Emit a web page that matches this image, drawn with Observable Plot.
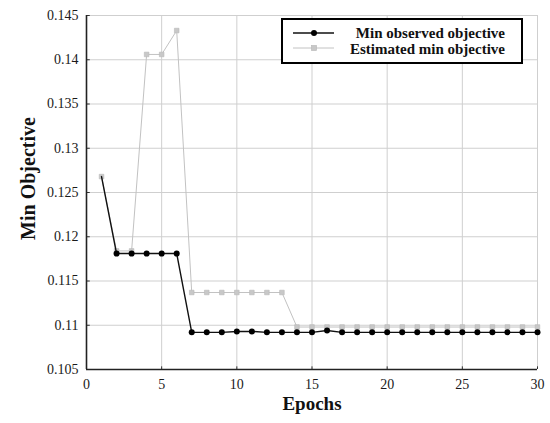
<!DOCTYPE html>
<html>
<head>
<meta charset="utf-8">
<script src="https://cdn.jsdelivr.net/npm/d3@7"></script>
<script src="https://cdn.jsdelivr.net/npm/@observablehq/plot@0.6"></script>
<style>
  body { margin: 0; background: #fff; }
  #wrap { position: relative; width: 550px; height: 423px; }
  #legend { position: absolute; left: 281px; top: 18px; }
</style>
</head>
<body>
<div id="wrap"></div>
<script>
const epochs = d3.range(1, 31);
const observed = [0.1268, 0.1181, 0.1181, 0.1181, 0.1181, 0.1181, 0.1092, 0.1092, 0.1092, 0.1093,
                  0.1093, 0.1092, 0.1092, 0.1092, 0.1092, 0.1094, 0.1092, 0.1092, 0.1092, 0.1092,
                  0.1092, 0.1092, 0.1092, 0.1092, 0.1092, 0.1092, 0.1092, 0.1092, 0.1092, 0.1092];
const estimated = [0.1268, 0.1184, 0.1184, 0.1406, 0.1406, 0.1433, 0.1137, 0.1137, 0.1137, 0.1137,
                   0.1137, 0.1137, 0.1137, 0.1098, 0.1098, 0.1098, 0.1098, 0.1098, 0.1098, 0.1098,
                   0.1098, 0.1098, 0.1098, 0.1098, 0.1098, 0.1098, 0.1098, 0.1098, 0.1098, 0.1098];
const xTicks = [0, 5, 10, 15, 20, 25, 30];
const yTicks = [0.105, 0.11, 0.115, 0.12, 0.125, 0.13, 0.135, 0.14, 0.145];
const seriesNames = ["Min observed objective", "Estimated min objective"];
const boldWords = ["Min", "Estimated", "min"];

const obs = epochs.map((e, i) => ({epoch: e, value: observed[i]}));
const est = epochs.map((e, i) => ({epoch: e, value: estimated[i]}));

const font = "'Liberation Serif', 'DejaVu Serif', serif";
const fmt = d => String(+d.toFixed(3));

const chart = Plot.plot({
  width: 550,
  height: 423,
  marginLeft: 86,
  marginRight: 13,
  marginTop: 15,
  marginBottom: 54,
  style: {fontFamily: font, fontSize: "14px", color: "#1a1a1a", background: "#fff"},
  x: {domain: [0, 30], label: null},
  y: {domain: [0.105, 0.145], label: null},
  marks: [
    Plot.gridX(xTicks, {stroke: "#cfcfcf", strokeOpacity: 1, strokeWidth: 1}),
    Plot.gridY(yTicks, {stroke: "#cfcfcf", strokeOpacity: 1, strokeWidth: 1}),
    Plot.axisX({ticks: xTicks, tickSize: 0, tickPadding: 10, label: null}),
    Plot.axisY({ticks: yTicks, tickSize: 0, tickPadding: 8, label: null, tickFormat: fmt}),
    Plot.ruleX(xTicks, {y1: 0.105, y2: 0.1053, stroke: "#333", strokeWidth: 1}),
    Plot.ruleY(yTicks, {x1: 0, x2: 0.25, stroke: "#333", strokeWidth: 1}),
    Plot.line(est, {x: "epoch", y: "value", stroke: "#c2c2c2", strokeWidth: 1}),
    Plot.dot(est, {x: "epoch", y: "value", symbol: "square", r: 2.6, fill: "#c8c8c8", stroke: "#b8b8b8", strokeWidth: 0.6}),
    Plot.line(obs, {x: "epoch", y: "value", stroke: "#111", strokeWidth: 1.4}),
    Plot.dot(obs, {x: "epoch", y: "value", r: 3, fill: "#000", filter: d => d.epoch > 1}),
    Plot.ruleX([0], {stroke: "#222", strokeWidth: 1.6}),
    Plot.ruleY([0.105], {stroke: "#222", strokeWidth: 1.6}),
    Plot.text(["Min Objective"], {frameAnchor: "left", textAnchor: "middle", dx: -58, dy: -14, rotate: -90, fontSize: 20, fontWeight: "bold", fill: "#111"}),
    Plot.text(["Epochs"], {frameAnchor: "bottom", dy: 40, fontSize: 19, fontWeight: "bold", fill: "#111"})
  ]
});

const wrap = document.getElementById("wrap");
wrap.appendChild(chart);

// Legend
const lg = d3.create("svg").attr("id", "legend").attr("width", 242).attr("height", 46)
  .style("font-family", font);
lg.append("rect").attr("x", 1).attr("y", 1).attr("width", 240).attr("height", 44)
  .attr("fill", "#fff").attr("stroke", "#000").attr("stroke-width", 2);
const rows = [
  {name: seriesNames[0], y: 15, base: 19.5, stroke: "#111", kind: "dot"},
  {name: seriesNames[1], y: 30, base: 36, stroke: "#c2c2c2", kind: "square"}
];
for (const r of rows) {
  lg.append("line").attr("x1", 12).attr("x2", 53).attr("y1", r.y).attr("y2", r.y)
    .attr("stroke", r.stroke).attr("stroke-width", r.kind === "dot" ? 1.4 : 1);
  if (r.kind === "dot") lg.append("circle").attr("cx", 33).attr("cy", r.y).attr("r", 3).attr("fill", "#000");
  else lg.append("rect").attr("x", 30.4).attr("y", r.y - 2.6).attr("width", 5.2).attr("height", 5.2)
    .attr("fill", "#c8c8c8").attr("stroke", "#b8b8b8").attr("stroke-width", 0.6);
  const t = lg.append("text").attr("x", 224).attr("y", r.base).attr("text-anchor", "end")
    .attr("font-size", 15).attr("fill", "#111");
  r.name.split(" ").forEach((w, i) => {
    t.append("tspan").attr("font-weight", boldWords.includes(w) ? "bold" : "600")
      .text((i ? " " : "") + w);
  });
}
wrap.appendChild(lg.node());
</script>
</body>
</html>
